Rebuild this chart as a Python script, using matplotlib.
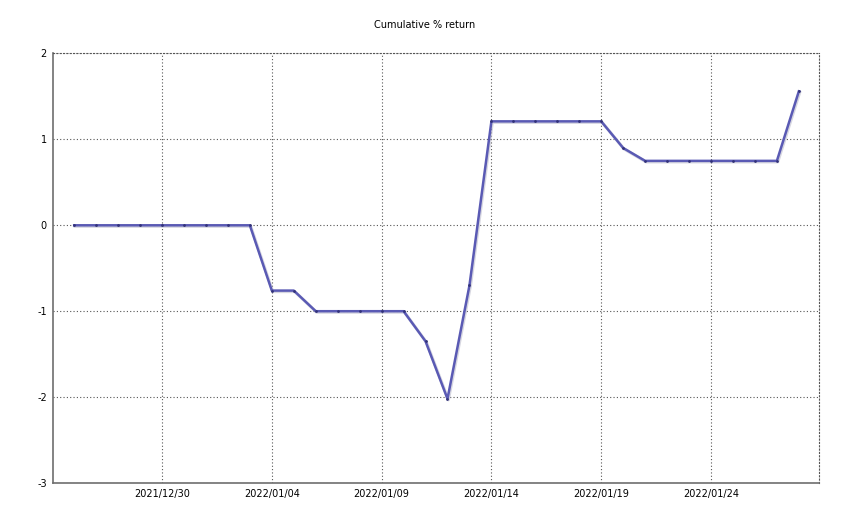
import numpy as np
import pandas as pd
import matplotlib
matplotlib.use("Agg")
import matplotlib.pyplot as plt
import matplotlib.dates as mdates

plt.rcParams["axes.unicode_minus"] = False

# ── data ──────────────────────────────────────────────
dates = pd.date_range("2021-12-26", "2022-01-28", freq="D")
cum_return = [
    0.0, 0.0, 0.0, 0.0, 0.0, 0.0, 0.0, 0.0, 0.0,       # 12/26 - 01/03
    -0.76, -0.76, -1.0, -1.0, -1.0, -1.0, -1.0,       # 01/04 - 01/10
    -1.35, -2.02, -0.70,                               # 01/11 - 01/13
    1.21, 1.21, 1.21, 1.21, 1.21, 1.21,                # 01/14 - 01/19
    0.90, 0.75, 0.75, 0.75, 0.75, 0.75, 0.75, 0.75,    # 01/20 - 01/27
    1.56,                                              # 01/28
]
tick_dates = pd.to_datetime(["2021-12-30", "2022-01-04", "2022-01-09",
                             "2022-01-14", "2022-01-19", "2022-01-24"])
y_ticks = [-3, -2, -1, 0, 1, 2]

LINE = "#5a5ab4"
GRID = "#555555"

fig = plt.figure(figsize=(8.5, 5.28), dpi=100)
ax = fig.add_axes([0.0618, 0.0852, 0.9017, 0.8135])

# shadow + line
ax.plot(dates + pd.Timedelta(hours=1), np.array(cum_return) - 0.012,
        color="#bbbbcc", linewidth=2.2, alpha=0.6, zorder=2)
ax.plot(dates, cum_return, color=LINE, linewidth=1.8, zorder=3,
        marker="o", markersize=1.0, markerfacecolor="#33337a",
        markeredgecolor="#33337a")

ax.set_xlim(pd.Timestamp("2021-12-25 00:20"), pd.Timestamp("2022-01-28 22:00"))
ax.set_ylim(-3, 2)
ax.set_xticks(tick_dates)
ax.xaxis.set_major_formatter(mdates.DateFormatter("%Y/%m/%d"))
ax.set_yticks(y_ticks)

ax.grid(True, linestyle=(0, (1, 2)), color=GRID, linewidth=0.8)
ax.tick_params(length=0, labelsize=7, pad=4)

for side in ("left", "bottom"):
    ax.spines[side].set_color("#6e6e6e")
    ax.spines[side].set_linewidth(1.2)
for side in ("top", "right"):
    ax.spines[side].set_linestyle((0, (1, 2)))
    ax.spines[side].set_color(GRID)
    ax.spines[side].set_linewidth(0.8)

fig.suptitle("Cumulative % return", fontsize=7, y=0.962, x=0.5)

fig.savefig("out.png", dpi=100)
